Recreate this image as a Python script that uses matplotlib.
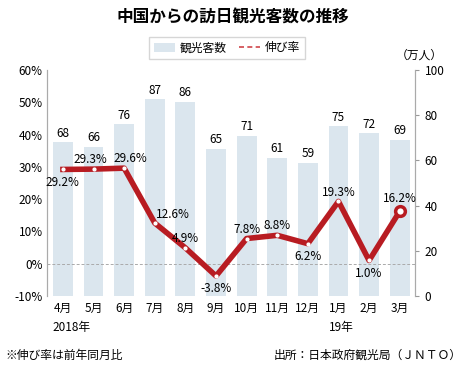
import matplotlib
matplotlib.use("Agg")
import matplotlib.pyplot as plt
from matplotlib.patches import Patch
from matplotlib.lines import Line2D

plt.rcParams['font.family'] = ['Noto Sans CJK JP', 'DejaVu Sans']

months = ["4月", "5月", "6月", "7月", "8月", "9月", "10月", "11月", "12月", "1月", "2月", "3月"]
visitors = [68, 66, 76, 87, 86, 65, 71, 61, 59, 75, 72, 69]
growth = [29.2, 29.3, 29.6, 12.6, 4.9, -3.8, 7.8, 8.8, 6.2, 19.3, 1.0, 16.2]
growth_labels = ["29.2%", "29.3%", "29.6%", "12.6%", "4.9%", "-3.8%", "7.8%", "8.8%", "6.2%", "19.3%", "1.0%", "16.2%"]
label_pos = ["below", "above", "above", "above", "above", "below", "above", "above", "below", "above", "below", "above"]
pct_ticks = [-10, 0, 10, 20, 30, 40, 50, 60]
num_ticks = [0, 20, 40, 60, 80, 100]

W, H = 465, 366
fig = plt.figure(figsize=(W / 100, H / 100), dpi=100)
left, right, top, bottom = 47, 415, 70, 296
axb = fig.add_axes([left / W, 1 - bottom / H, (right - left) / W, (bottom - top) / H])
axl = axb.twinx()

bar_color = "#dbe6ee"
line_color = "#b81c22"
fs = 8.5
x = list(range(len(months)))

axb.bar(x, visitors, width=0.65, color=bar_color, zorder=1)
axb.set_ylim(0, 100)
axb.set_xlim(-0.52, 11.5)
axb.yaxis.tick_right()
axb.set_yticks(num_ticks)
axb.set_yticklabels([str(v) for v in num_ticks], fontsize=fs)
axb.tick_params(axis='y', length=3, color="#999999", pad=4)
axb.set_xticks(x)
axb.set_xticklabels(months, fontsize=fs)
axb.tick_params(axis='x', length=0, pad=4)
for xi, v in zip(x, visitors):
    axb.text(xi, v + 1.2, str(v), ha='center', va='bottom', fontsize=fs)

axl.plot(x, growth, color=line_color, lw=4, zorder=3, solid_joinstyle='round')
axl.plot(x[:-1], growth[:-1], 'o', color='white', ms=2, zorder=4)
axl.plot(x[-1], growth[-1], 'o', mfc='white', mec=line_color, mew=2.5, ms=7, zorder=5)
axl.axhline(0, color="#aaaaaa", lw=0.7, ls=(0, (3, 2)), zorder=2)
axl.set_ylim(-10, 60)
axl.yaxis.tick_left()
axl.set_yticks(pct_ticks)
axl.set_yticklabels([f"{v}%" for v in pct_ticks], fontsize=fs)
axl.tick_params(axis='y', length=0, pad=3)
for xi, g, lab, pos in zip(x, growth, growth_labels, label_pos):
    dx = 0.0
    if pos == "above":
        dy = 2.9
        if xi == 1:
            dx = -0.1
        if xi == 2:
            dx = 0.2
        if xi == 3:
            dx, dy = 0.58, 2.5
        if xi == 11:
            dy = 4.0
    else:
        dy = -4.0
    axl.text(xi + dx, g + dy, lab, ha='center', va='center', fontsize=fs)

for a in (axb, axl):
    a.spines['top'].set_visible(False)
    a.spines['bottom'].set_visible(False)
    a.spines['left'].set_color("#aaaaaa")
    a.spines['right'].set_color("#aaaaaa")

fig.text(0.5, 1 - 18 / H, "中国からの訪日観光客数の推移", ha='center', va='center', fontsize=12, fontweight='bold')
handles = [Patch(facecolor=bar_color, edgecolor='none'),
           Line2D([0], [0], color="#d0454a", lw=1.2, ls=(0, (3, 2)))]
fig.legend(handles, ["観光客数", "伸び率"], loc='center', bbox_to_anchor=(227 / W, 1 - 48 / H),
           ncol=2, fontsize=fs, frameon=True, edgecolor="#cccccc", fancybox=False,
           handlelength=1.8, handleheight=0.7, handletextpad=0.4, columnspacing=1.0, borderpad=0.4)
fig.text(419 / W, 1 - 55 / H, "（万人）", ha='center', va='center', fontsize=fs)
fig.text(72 / W, 1 - 328 / H, "2018年", ha='center', va='center', fontsize=fs)
fig.text(341 / W, 1 - 328 / H, "19年", ha='center', va='center', fontsize=fs)
fig.text(5 / W, 1 - 355 / H, "※伸び率は前年同月比", ha='left', va='center', fontsize=fs)
fig.text(462 / W, 1 - 355 / H, "出所：日本政府観光局（ＪＮＴＯ）", ha='right', va='center', fontsize=fs)

fig.savefig("out.png", dpi=100)
